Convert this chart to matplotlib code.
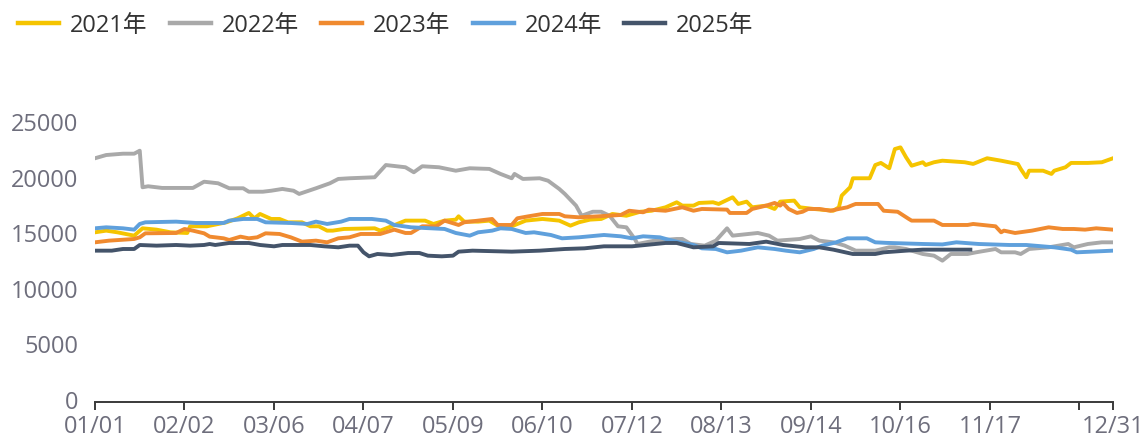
import matplotlib.pyplot as plt

plt.rcParams['font.family'] = ['Open Sans', 'Noto Sans CJK SC', 'DejaVu Sans']

# ==========================================
# DATA  (day of year, value)
# ==========================================

tick_days = [0, 32, 64, 96, 128, 160, 192, 224, 256, 288, 320, 352, 364]
tick_labels = ['01/01', '02/02', '03/06', '04/07', '05/09', '06/10',
               '07/12', '08/13', '09/14', '10/16', '11/17', '', '12/31']

days_2021 = [0, 4, 8, 11, 14, 17, 22, 27, 33, 34, 40, 47, 51, 55, 57, 59, 63, 66,
             69, 74, 77, 80, 83, 85, 89, 100, 102, 106, 111, 118, 121, 125, 129,
             130, 132, 137, 141, 144, 149, 154, 160, 166, 170, 173, 177, 181, 185,
             190, 195, 199, 204, 208, 210, 214, 216, 221, 223, 228, 230, 233, 235,
             240, 243, 245, 250, 252, 257, 264, 266, 267, 270, 271, 277, 279, 281,
             284, 286, 288, 290, 292, 296, 297, 300, 303, 311, 314, 319, 324, 330,
             331, 333, 334, 339, 342, 343, 347, 349, 355, 360, 364]
vals_2021 = [14990, 15140, 14990, 14840, 14690, 15350, 15230, 14990, 14930, 15530,
             15530, 15890, 16250, 16730, 16250, 16640, 16190, 16190, 15890, 15890,
             15530, 15530, 15140, 15140, 15290, 15350, 15140, 15530, 16040, 16040,
             15740, 16040, 16130, 16430, 15950, 15950, 16040, 15590, 15530, 16040,
             16190, 16040, 15590, 15890, 16130, 16190, 16640, 16480, 16840, 16930,
             17240, 17690, 17390, 17390, 17630, 17690, 17540, 18140, 17540, 17750,
             17240, 17390, 17090, 17750, 17840, 17240, 17090, 16930, 17240, 18290,
             19040, 19850, 19850, 21040, 21230, 20750, 22480, 22630, 21740, 20980,
             21290, 21040, 21290, 21430, 21290, 21140, 21650, 21430, 21130, 20690,
             19940, 20530, 20530, 20240, 20530, 20840, 21230, 21230, 21290, 21650]

days_2022 = [0, 4, 10, 14, 16, 17, 19, 24, 35, 39, 44, 48, 53, 55, 60, 63, 67, 71,
             73, 79, 84, 87, 91, 100, 104, 111, 114, 117, 123, 129, 134, 141, 145,
             149, 150, 153, 159, 162, 166, 168, 172, 174, 178, 181, 184, 187, 190,
             193, 194, 200, 208, 210, 213, 218, 222, 226, 228, 237, 241, 244, 252,
             256, 259, 264, 268, 272, 279, 284, 286, 290, 296, 300, 303, 306, 312,
             315, 322, 324, 329, 331, 334, 341, 348, 350, 355, 360, 364]
vals_2022 = [21650, 21940, 22060, 22060, 22330, 19040, 19130, 18980, 18980, 19540,
             19400, 18950, 18950, 18640, 18640, 18730, 18890, 18730, 18440, 18950,
             19400, 19790, 19850, 19940, 21040, 20840, 20390, 20930, 20840, 20530,
             20750, 20690, 20240, 19850, 20240, 19790, 19850, 19630, 18890, 18440,
             17390, 16480, 16840, 16840, 16480, 15530, 15440, 14390, 13940, 14240,
             14390, 14390, 13940, 13790, 14240, 15350, 14690, 14930, 14690, 14240,
             14390, 14630, 14240, 14090, 13800, 13340, 13340, 13640, 13640, 13490,
             13040, 12890, 12440, 13040, 13040, 13190, 13490, 13190, 13190, 13040,
             13490, 13640, 13940, 13640, 13940, 14090, 14090]

days_2023 = [0, 5, 14, 16, 18, 29, 32, 35, 39, 41, 46, 48, 52, 55, 58, 61, 66, 70,
             74, 79, 83, 87, 91, 95, 102, 107, 111, 113, 117, 122, 125, 130, 132,
             137, 142, 144, 149, 151, 155, 160, 166, 168, 173, 180, 188, 191, 196,
             198, 204, 210, 214, 217, 226, 227, 233, 235, 240, 243, 245, 246, 248,
             251, 253, 255, 259, 263, 266, 269, 271, 272, 280, 282, 287, 291, 292,
             300, 303, 312, 314, 322, 324, 325, 329, 335, 341, 346, 350, 354, 358,
             364]
vals_2023 = [14090, 14240, 14390, 14540, 14900, 14930, 15290, 15140, 14900, 14600,
             14450, 14300, 14600, 14450, 14540, 14900, 14840, 14540, 14150, 14240,
             14090, 14450, 14540, 14840, 14840, 15230, 14930, 14930, 15530, 15530,
             16040, 15650, 15890, 16040, 16190, 15650, 15650, 16250, 16430, 16640,
             16640, 16430, 16340, 16430, 16550, 16930, 16790, 17030, 16930, 17240,
             16930, 17090, 17030, 16730, 16730, 17090, 17390, 17630, 17390, 17630,
             17090, 16730, 16840, 17090, 17090, 16930, 17090, 17240, 17450, 17540,
             17540, 16930, 16840, 16190, 16040, 16040, 15650, 15650, 15740, 15530,
             14990, 15140, 14930, 15140, 15440, 15290, 15290, 15230, 15350, 15230]

days_2024 = [0, 4, 10, 14, 16, 18, 29, 36, 46, 48, 53, 58, 61, 70, 76, 79, 83, 88,
             91, 99, 104, 107, 113, 125, 129, 134, 137, 142, 145, 149, 154, 157,
             163, 167, 173, 182, 188, 192, 196, 202, 205, 209, 214, 217, 222, 226,
             231, 237, 243, 247, 252, 257, 260, 265, 269, 276, 279, 283, 296, 303,
             308, 316, 327, 333, 343, 349, 351, 364]
vals_2024 = [15350, 15440, 15350, 15230, 15740, 15890, 15950, 15830, 15830, 16040,
             16190, 16190, 15890, 15830, 15740, 15950, 15740, 15950, 16190, 16190,
             16040, 15650, 15440, 15290, 14930, 14690, 14990, 15140, 15350, 15290,
             14930, 14990, 14750, 14450, 14540, 14750, 14630, 14450, 14630, 14540,
             14330, 14090, 13850, 13550, 13490, 13190, 13340, 13640, 13490, 13340,
             13190, 13490, 13790, 14090, 14450, 14450, 14090, 14040, 13940, 13900,
             14090, 13940, 13850, 13850, 13640, 13430, 13190, 13340]

days_2025 = [0, 6, 10, 14, 16, 22, 29, 34, 39, 41, 43, 48, 55, 59, 64, 67, 77, 82,
             87, 91, 94, 96, 98, 101, 106, 112, 116, 119, 124, 128, 130, 135, 149,
             159, 168, 175, 182, 192, 204, 208, 214, 221, 223, 234, 240, 246, 254,
             259, 264, 271, 279, 282, 290, 296, 313]
vals_2025 = [13340, 13340, 13490, 13490, 13850, 13790, 13850, 13790, 13850, 13940,
             13850, 14030, 14030, 13850, 13730, 13850, 13850, 13730, 13640, 13790,
             13790, 13190, 12830, 13040, 12950, 13130, 13130, 12890, 12830, 12890,
             13250, 13340, 13250, 13340, 13490, 13550, 13730, 13730, 14030, 14030,
             13640, 13730, 14030, 13940, 14150, 13850, 13640, 13640, 13430, 13040,
             13040, 13190, 13340, 13430, 13430]

series = [
    ('2021年', days_2021, vals_2021, '#F5C400'),
    ('2022年', days_2022, vals_2022, '#A9A9A9'),
    ('2023年', days_2023, vals_2023, '#F08A2F'),
    ('2024年', days_2024, vals_2024, '#5FA0DC'),
    ('2025年', days_2025, vals_2025, '#44546A'),
]

# ==========================================
# CHART
# ==========================================

fig = plt.figure(figsize=(11.43, 4.39), dpi=100)
ax = fig.add_axes([95 / 1143, 1 - 400 / 439, 1018 / 1143, 278 / 439])

for name, d, v, c in series:
    ax.plot(d, v, color=c, linewidth=2.8, label=name, solid_joinstyle='round')

ax.set_xlim(0, 364)
ax.set_ylim(0, 25000)
ax.set_yticks([0, 5000, 10000, 15000, 20000, 25000])
ax.set_xticks(tick_days)
ax.set_xticklabels(tick_labels)

for s in ['top', 'right', 'left']:
    ax.spines[s].set_visible(False)
ax.spines['bottom'].set_color('#3a3a3a')
ax.spines['bottom'].set_linewidth(1.4)
ax.spines['bottom'].set_position(('outward', 2))

ax.tick_params(axis='y', length=0, pad=12, labelsize=17, labelcolor='#6E6E7C')
ax.tick_params(axis='x', length=6, width=1.4, color='#3a3a3a', pad=2.5,
               labelsize=17, labelcolor='#6E6E7C')

fig.legend(
    loc='center left',
    bbox_to_anchor=(18 / 1143, 1 - 26 / 439),
    ncol=5,
    frameon=False,
    fontsize=17,
    handlelength=1.74,
    handletextpad=0.47,
    columnspacing=0.93,
    borderpad=0,
    borderaxespad=0,
    labelcolor='#333333',
)
for line in fig.legends[0].get_lines():
    line.set_linewidth(3.2)

plt.savefig('out.png', dpi=100)
plt.close()
